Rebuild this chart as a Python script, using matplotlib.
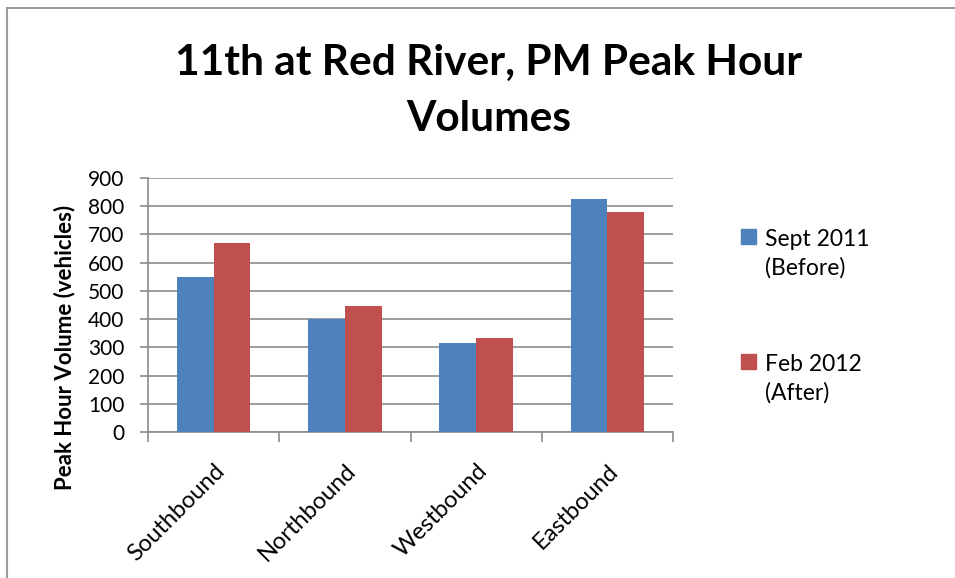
import numpy as np
import matplotlib.pyplot as plt
from matplotlib.patches import Rectangle

# Data
directions = ['Southbound', 'Northbound', 'Westbound', 'Eastbound']
sept_2011 = [548, 400, 315, 824]
feb_2012 = [668, 447, 334, 780]
series_labels = ['Sept 2011\n(Before)', 'Feb 2012\n(After)']
y_ticks = list(range(0, 1000, 100))

blue = '#4F81BD'
red = '#C0504D'
grid_gray = '#8C8C8C'

plt.rcParams['font.family'] = ['Lato', 'DejaVu Sans']

W, H = 955, 578
fig = plt.figure(figsize=(W / 100, H / 100), dpi=100)
ax = fig.add_axes([0.155, 0.252, 0.5497, 0.4405])

x = np.arange(len(directions))
w = 0.28
ax.bar(x - w / 2, sept_2011, width=w, color=blue, zorder=3)
ax.bar(x + w / 2, feb_2012, width=w, color=red, zorder=3)

ax.set_xlim(-0.5, len(directions) - 0.5)
ax.set_ylim(0, 900)
ax.set_yticks(y_ticks)
ax.tick_params(axis='y', labelsize=15, length=6, color=grid_gray, width=1.2, pad=11)
ax.yaxis.grid(True, color=grid_gray, linewidth=1.2, zorder=0)

# category ticks sit between groups, labels at centres
ax.set_xticks(np.arange(-0.5, len(directions)), minor=False)
ax.set_xticklabels([])
ax.set_xticks(x, minor=True)
ax.set_xticklabels(directions, minor=True, rotation=45, ha='right',
                   rotation_mode='anchor', fontsize=17)
ax.tick_params(axis='x', which='major', length=7, color=grid_gray, width=1.2)
ax.tick_params(axis='x', which='minor', length=0, pad=20)

for side in ['top', 'right']:
    ax.spines[side].set_visible(False)
for side in ['left', 'bottom']:
    ax.spines[side].set_color(grid_gray)
    ax.spines[side].set_linewidth(1.2)

fig.text(65 / W, 1 - 347 / H, 'Peak Hour Volume (vehicles)', rotation=90,
         ha='center', va='center', fontsize=16, fontweight='bold')

fig.text(0.512, 1 - 91 / H, '11th at Red River, PM Peak Hour\nVolumes', ha='center', va='center',
         fontsize=30.5, fontweight='bold', linespacing=1.58)

# legend: square beside first line of each label
leg_colors = [blue, red]
for i, (lab, col) in enumerate(zip(series_labels, leg_colors)):
    top = 229 + i * 125
    fig.patches.append(Rectangle((741 / W, 1 - (top + 15) / H), 15 / W, 15 / H,
                                 transform=fig.transFigure, color=col))
    fig.text(765 / W, 1 - (top + 25) / H, lab, ha='left', va='center',
             fontsize=16.5, linespacing=1.4)

# chart frame
fig.patches.append(Rectangle((0.007, -0.01), 1.2, 0.996, transform=fig.transFigure,
                             fill=False, edgecolor='#9A9A9A', linewidth=1.5))

fig.savefig('out.png', dpi=100)
